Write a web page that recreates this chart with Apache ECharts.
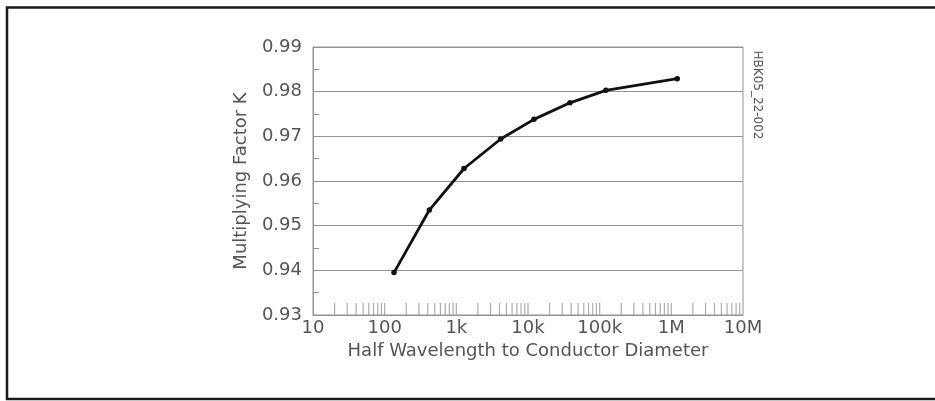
<!DOCTYPE html>
<html>
<head>
<meta charset="utf-8">
<script src="https://cdn.jsdelivr.net/npm/echarts@6/dist/echarts.min.js"></script>
<style>
html,body{margin:0;padding:0;background:#fff;}
#chart{width:935px;height:401px;}
</style>
</head>
<body>
<div id="chart"></div>
<script>
// Data
const ratioValues = [135, 420, 1280, 4160, 12100, 38500, 122000, 1210000];
const factorK = [0.9395, 0.9535, 0.9628, 0.9694, 0.9738, 0.9775, 0.9803, 0.9829];
const xTickLabels = ['10', '100', '1k', '10k', '100k', '1M', '10M'];
const yTickLabels = ['0.93', '0.94', '0.95', '0.96', '0.97', '0.98', '0.99'];
const xMinorTickValues = [
  20, 30, 40, 50, 60, 70, 80, 90, 100,
  200, 300, 400, 500, 600, 700, 800, 900, 1000,
  2000, 3000, 4000, 5000, 6000, 7000, 8000, 9000, 10000,
  20000, 30000, 40000, 50000, 60000, 70000, 80000, 90000, 100000,
  200000, 300000, 400000, 500000, 600000, 700000, 800000, 900000, 1000000,
  2000000, 3000000, 4000000, 5000000, 6000000, 7000000, 8000000, 9000000
];
const xAxisTitle = 'Half Wavelength to Conductor Diameter';
const yAxisTitle = 'Multiplying Factor K';
const figureCode = 'HBK05_22-002';

const FONT = 'DejaVu Sans';
const TXT = '#555';
const GRIDC = '#949494';

const chart = echarts.init(document.getElementById('chart'), null, {renderer: 'canvas'});
chart.setOption({
  animation: false,
  backgroundColor: '#fff',
  grid: {
    left: 313, right: 192, top: 47, bottom: 86,
    show: true, borderColor: GRIDC, borderWidth: 1, backgroundColor: 'transparent'
  },
  xAxis: {
    type: 'log',
    logBase: 10,
    min: 10,
    max: 10000000,
    splitNumber: 6,
    name: xAxisTitle,
    nameLocation: 'middle',
    nameGap: 22,
    nameTextStyle: {fontFamily: FONT, fontSize: 18, color: TXT},
    axisLine: {show: true, lineStyle: {color: GRIDC, width: 1}},
    axisTick: {show: false},
    splitLine: {show: false},
    axisLabel: {
      fontFamily: FONT, fontSize: 18, color: TXT, margin: 4,
      showMinLabel: true, showMaxLabel: true,
      formatter: function (v) {
        const i = Math.round(Math.log10(v)) - 1;
        return xTickLabels[i] !== undefined ? xTickLabels[i] : '';
      }
    }
  },
  yAxis: {
    type: 'value',
    min: 0.93,
    max: 0.99,
    interval: 0.01,
    name: yAxisTitle,
    nameLocation: 'middle',
    nameGap: 63,
    nameTextStyle: {fontFamily: FONT, fontSize: 18, color: TXT},
    axisLine: {show: true, lineStyle: {color: GRIDC, width: 1}},
    axisTick: {show: true, inside: true, length: 6, lineStyle: {color: GRIDC}},
    minorTick: {show: true, splitNumber: 2, length: 6, lineStyle: {color: GRIDC, width: 1}},
    splitLine: {show: true, lineStyle: {color: GRIDC, width: 1}},
    axisLabel: {
      fontFamily: FONT, fontSize: 18, color: TXT, margin: 11,
      formatter: function (v) {
        const i = Math.round((v - 0.93) * 100);
        return yTickLabels[i] !== undefined ? yTickLabels[i] : '';
      }
    }
  },
  series: [
    {
      type: 'scatter',
      silent: true,
      clip: false,
      z: 1,
      symbol: 'rect',
      symbolSize: [1.2, 12],
      symbolOffset: [0, -6],
      itemStyle: {color: '#999'},
      data: xMinorTickValues.map(function (v) { return [v, 0.93]; })
    },
    {
      type: 'line',
      z: 5,
      data: ratioValues.map(function (v, i) { return [v, factorK[i]]; }),
      symbol: 'circle',
      symbolSize: 5.5,
      showSymbol: true,
      lineStyle: {color: '#111', width: 2.8},
      itemStyle: {color: '#111'}
    }
  ],
  graphic: [
    {
      type: 'rect',
      silent: true,
      shape: {x: 7, y: 7.5, width: 940, height: 391.5},
      style: {fill: 'none', stroke: '#1a1a1a', lineWidth: 2.5}
    },
    {
      type: 'text',
      silent: true,
      x: 757,
      y: 95,
      rotation: -Math.PI / 2,
      style: {
        text: figureCode, fontFamily: FONT, fontSize: 12, fill: TXT,
        align: 'center', verticalAlign: 'middle'
      }
    }
  ]
});
</script>
</body>
</html>
